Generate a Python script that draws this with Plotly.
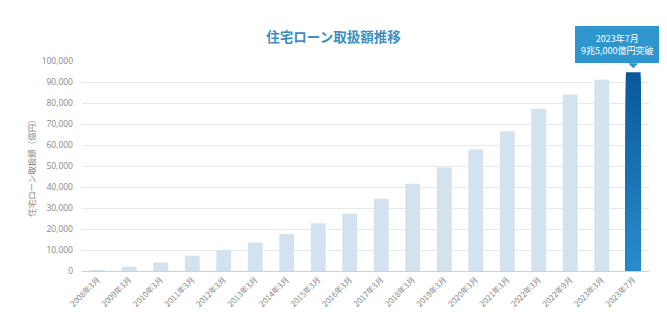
import plotly.graph_objects as go

categories = ["2008年3月", "2009年3月", "2010年3月", "2011年3月", "2012年3月", "2013年3月",
              "2014年3月", "2015年3月", "2016年3月", "2017年3月", "2018年3月", "2019年3月",
              "2020年3月", "2021年3月", "2022年3月", "2022年9月", "2023年3月", "2023年7月"]
values = [200, 2000, 4100, 7300, 10000, 13600, 17600, 22700, 27300, 34400, 41500, 49300,
          57800, 66500, 77300, 84100, 91100, 94600]
y_ticks = list(range(0, 100001, 10000))

light = "#d3e2ef"
grad_top = (10, 88, 154)     # dark navy at top of highlighted bar
grad_bottom = (40, 140, 204)  # lighter blue at bottom
callout = "#2f95cd"

font_jp = "Noto Sans CJK JP"

fig = go.Figure()
fig.add_trace(go.Bar(x=categories[:-1], y=values[:-1], marker=dict(color=light, line=dict(width=0)),
                     hoverinfo="skip"))

# gradient for the highlighted (last) bar: stacked overlays, darker at top
n_steps = 40
for i in range(n_steps):
    frac = 1 - i / n_steps
    t = i / (n_steps - 1)
    col = tuple(round(grad_top[k] + (grad_bottom[k] - grad_top[k]) * t) for k in range(3))
    fig.add_trace(go.Bar(x=[categories[-1]], y=[values[-1] * frac],
                         marker=dict(color="rgb(%d,%d,%d)" % col, line=dict(width=0)),
                         hoverinfo="skip"))

fig.add_annotation(x=categories[-1], y=values[-1], xref="x", yref="y",
                   text="2023年7月<br>9兆5,000億円突破", showarrow=False,
                   yanchor="bottom", yshift=9, xshift=-16,
                   bgcolor=callout, bordercolor=callout, borderpad=5,
                   font=dict(family=font_jp, size=9, color="white"), align="center")
fig.add_shape(type="path", xref="x", yref="y", xsizemode="pixel", ysizemode="pixel",
              xanchor=categories[-1], yanchor=values[-1],
              path="M -5,9 L 5,9 L 0,4 Z", fillcolor=callout, line=dict(width=0))

fig.update_layout(
    width=667, height=334,
    margin=dict(l=82, r=18, t=61, b=63, autoexpand=False),
    paper_bgcolor="white", plot_bgcolor="white",
    title=dict(text="<b>住宅ローン取扱額推移</b>", x=0.5, xanchor="center", y=0.888, yanchor="middle",
               font=dict(family=font_jp, size=13.5, color="#3d8fbf")),
    barmode="overlay",
    bargap=0.53,
    showlegend=False,
    xaxis=dict(tickangle=-45, tickfont=dict(family=font_jp, size=8, color="#888"),
               showgrid=False, showline=True, linecolor="#d0d0d0", ticks="", ticklen=0,
               automargin=False, range=[-0.5, len(categories) - 0.5], domain=[0, 1],
               categoryorder="array", categoryarray=categories),
    yaxis=dict(range=[0, 100000], tickvals=y_ticks, tickformat=",d",
               tickfont=dict(family="Open Sans", size=8.5, color="#888"),
               gridcolor="#e8e8e8", zeroline=False, ticks="", ticklabelstandoff=8,
               automargin=False,
               title=dict(text="住宅ローン取扱額（億円）", standoff=4,
                          font=dict(family=font_jp, size=8.5, color="#888"))),
)

fig.write_html("out.html", config={"responsive": False})
